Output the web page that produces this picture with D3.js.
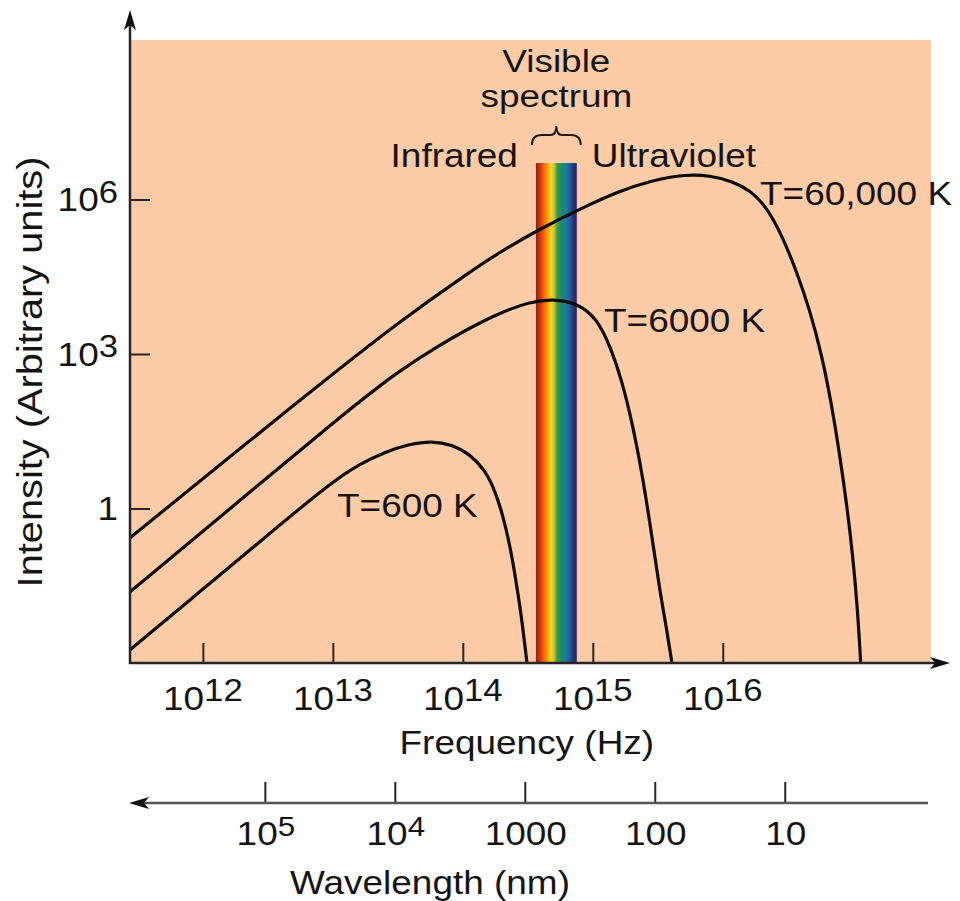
<!DOCTYPE html>
<html>
<head>
<meta charset="utf-8">
<script src="https://cdn.jsdelivr.net/npm/d3@7"></script>
<style>
  html, body { margin: 0; padding: 0; background: #ffffff; }
  svg { display: block; }
  text { font-family: "Liberation Sans", Arial, Helvetica, sans-serif; fill: #141414; }
</style>
</head>
<body>
<svg id="chart" width="960" height="901"></svg>
<script>
// ---- Data -------------------------------------------------------------
// Blackbody curves: [frequency (Hz), intensity (arbitrary units)]
const curve600K = [
  [2.74e11, 1.79e-3], [9.49e11, 0.0242], [2.74e12, 0.227], [1.0e13, 3.42],
  [1.61e13, 7.31], [2.51e13, 12.5], [3.91e13, 17.9], [5.78e13, 20.5],
  [8.23e13, 17.5], [1.13e14, 11.4], [1.48e14, 5.59], [1.76e14, 2.29],
  [2.03e14, 0.748], [2.30e14, 0.196], [2.56e14, 0.0409], [2.79e14, 0.00977],
  [2.95e14, 0.0032], [3.11e14, 1.05e-3]
];
const curve6000K = [
  [2.74e11, 0.0239], [1.61e12, 0.978], [1.13e13, 59.8], [3.27e13, 489],
  [6.65e13, 1496], [1.24e14, 3660], [2.10e14, 6840], [3.27e14, 10230],
  [4.92e14, 11700], [7.53e14, 9780], [1.07e15, 5000], [1.35e15, 1496],
  [1.67e15, 313], [2.03e15, 41.8], [2.43e15, 3.91], [2.84e15, 0.306],
  [3.27e15, 0.0261], [3.71e15, 0.00437], [4.05e15, 1.05e-3]
];
const curve60000K = [
  [2.74e11, 0.267], [5.57e12, 128], [3.27e13, 4370], [1.13e14, 39100],
  [1.93e14, 95700], [3.91e14, 2.67e5], [7.94e14, 6.54e5], [1.61e15, 1.46e6],
  [2.74e15, 2.29e6], [5.28e15, 3.13e6], [8.23e15, 2.86e6], [1.17e16, 2.29e6],
  [1.61e16, 1.53e6], [2.18e16, 7.15e5], [2.89e16, 1.87e5], [3.71e16, 39100],
  [4.67e16, 7150], [5.78e16, 957], [6.89e16, 102], [7.94e16, 10.9],
  [9.0e16, 1.17], [1.0e17, 0.125], [1.09e17, 0.0107], [1.15e17, 1.05e-3]
];
const seriesNames = ["T=600 K", "T=6000 K", "T=60,000 K"];

// Visible band (Hz) and the height the rainbow bar reaches
const visibleBand = [3.65e14, 7.53e14];
const visibleTop = 5.1e6;

// Tick values and their labels: [mantissa, exponent]
const freqTicks = [1e12, 1e13, 1e14, 1e15, 1e16];
const freqTickLabels = [["10", "12"], ["10", "13"], ["10", "14"], ["10", "15"], ["10", "16"]];
const intensityTicks = [1, 1e3, 1e6];
const intensityTickLabels = [["1", ""], ["10", "3"], ["10", "6"]];
const waveTicks = [1e5, 1e4, 1000, 100, 10];
const waveTickLabels = [["10", "5"], ["10", "4"], ["1000", ""], ["100", ""], ["10", ""]];

const SPEED_OF_LIGHT_NM = 2.998e17; // nm/s

// ---- Layout ------------------------------------------------------------
const svg = d3.select("#chart");
const FONT = 33, SX = 1.12;

const x = d3.scaleLog().domain([2.75e11, 4e17]).range([130, 931]);
const y = d3.scaleLog().domain([1e-3, 1.25e9]).range([663, 40]);
const wl = d3.scaleLog()
  .domain([SPEED_OF_LIGHT_NM / x.domain()[0], SPEED_OF_LIGHT_NM / x.domain()[1]])
  .range(x.range());

const [x0, x1] = x.range();
const [y0, y1] = y.range(); // y0 bottom, y1 top
const waveY = 803;

function label(parent, str, px, py, opts = {}) {
  const { anchor = "start", size = FONT, rotate = 0, sx = SX } = opts;
  return parent.append("text")
    .attr("transform", `translate(${px},${py})` + (rotate ? ` rotate(${rotate})` : "") + ` scale(${sx},1)`)
    .attr("text-anchor", anchor)
    .attr("font-size", size)
    .text(str);
}

function powerLabel(parent, parts, px, py, anchor, size, supSize, rise) {
  const t = parent.append("text")
    .attr("transform", `translate(${px},${py}) scale(${SX},1)`)
    .attr("text-anchor", anchor)
    .attr("font-size", size);
  t.append("tspan").text(parts[0]);
  if (parts[1]) {
    t.append("tspan").attr("font-size", supSize).attr("dy", -rise).text(parts[1]);
  }
  return t;
}

// Background panel
svg.append("rect")
  .attr("x", x0).attr("y", y1)
  .attr("width", x1 - x0).attr("height", y0 - y1)
  .attr("fill", "#fdcba6");

// Rainbow gradient for the visible band (red at low frequency)
const defs = svg.append("defs");
const grad = defs.append("linearGradient").attr("id", "rainbow")
  .attr("x1", "0%").attr("x2", "100%").attr("y1", "0%").attr("y2", "0%");
[
  [0, "#6a2a2a"], [0.05, "#b52a14"], [0.13, "#e4400c"], [0.25, "#ff8a00"],
  [0.36, "#ffd21e"], [0.44, "#c6cc3a"], [0.52, "#3f9a40"], [0.62, "#1d8a6e"],
  [0.72, "#1a7e9a"], [0.82, "#23609e"], [0.92, "#28327a"], [1, "#2a2058"]
].forEach(([o, c]) => grad.append("stop").attr("offset", o).attr("stop-color", c));

defs.append("clipPath").attr("id", "plotClip")
  .append("rect").attr("x", x0).attr("y", y1).attr("width", x1 - x0).attr("height", y0 - y1);

// Visible spectrum bar
const vx0 = x(visibleBand[0]), vx1 = x(visibleBand[1]);
svg.append("rect")
  .attr("x", vx0).attr("y", y(visibleTop))
  .attr("width", vx1 - vx0).attr("height", y0 - y(visibleTop))
  .attr("fill", "url(#rainbow)");

// Brace over the bar
const bl = vx0 - 4, br = vx1 + 4, bm = (vx0 + vx1) / 2;
const bTop = y(visibleTop) - 37, bMid = bTop + 9, bBot = bTop + 19;
svg.append("path")
  .attr("d", `M${bl},${bBot} Q${bl},${bMid} ${bl + 10},${bMid} L${bm - 6},${bMid} Q${bm},${bMid} ${bm},${bTop}` +
             ` Q${bm},${bMid} ${bm + 6},${bMid} L${br - 10},${bMid} Q${br},${bMid} ${br},${bBot}`)
  .attr("fill", "none").attr("stroke", "#1a1a1a").attr("stroke-width", 2);

// Curves
const line = d3.line()
  .x(d => x(d[0])).y(d => y(d[1]))
  .curve(d3.curveBasis);
svg.append("g").attr("clip-path", "url(#plotClip)")
  .selectAll("path")
  .data([curve600K, curve6000K, curve60000K])
  .join("path")
  .attr("d", line)
  .attr("fill", "none")
  .attr("stroke", "#0a0a0a")
  .attr("stroke-width", 3.2)
  .attr("stroke-linejoin", "round");

// Curve labels
label(svg, seriesNames[0], 337, 517);
label(svg, seriesNames[1], 604, 332);
label(svg, seriesNames[2], 760, 205);

// Band labels
label(svg, "Visible", bm, 72, { anchor: "middle", size: 31, sx: 1.19 });
label(svg, "spectrum", bm, 107, { anchor: "middle", size: 31, sx: 1.19 });
label(svg, "Infrared", vx0 - 18, 167, { anchor: "end" });
label(svg, "Ultraviolet", vx1 + 15, 167);

// ---- Axes --------------------------------------------------------------
const axisColor = "#262626";

function arrowHead(cx, cy, angle) {
  // tip at (cx, cy), pointing along angle (degrees)
  svg.append("path")
    .attr("d", "M0,0 L-20,-6 L-15,0 L-20,6 Z")
    .attr("transform", `translate(${cx},${cy}) rotate(${angle})`)
    .attr("fill", "#111");
}

// Frequency axis (bottom)
const xAxis = d3.axisBottom(x).tickValues(freqTicks).tickSize(-20).tickSizeOuter(0).tickFormat("");
const gx = svg.append("g").attr("transform", `translate(0,${y0})`).call(xAxis);
gx.select(".domain").remove();
gx.selectAll(".tick line").attr("stroke", axisColor).attr("stroke-width", 2);
svg.append("line").attr("x1", x0 - 1).attr("x2", 940).attr("y1", y0).attr("y2", y0)
  .attr("stroke", axisColor).attr("stroke-width", 2.5);
arrowHead(950, y0, 0);

freqTicks.forEach((t, i) => powerLabel(svg, freqTickLabels[i], x(t), 710, "middle", FONT, 31, 9));
label(svg, "Frequency (Hz)", (x(1e12) + x(1e16)) / 2 + 64, 754, { anchor: "middle" });

// Intensity axis (left)
const yAxis = d3.axisLeft(y).tickValues(intensityTicks).tickSize(-20).tickSizeOuter(0).tickFormat("");
const gy = svg.append("g").attr("transform", `translate(${x0},0)`).call(yAxis);
gy.select(".domain").remove();
gy.selectAll(".tick line").attr("stroke", axisColor).attr("stroke-width", 2);
svg.append("line").attr("x1", x0).attr("x2", x0).attr("y1", y0 + 1).attr("y2", 22)
  .attr("stroke", axisColor).attr("stroke-width", 2.5);
arrowHead(x0, 10, -90);

intensityTicks.forEach((t, i) => powerLabel(svg, intensityTickLabels[i], 118, y(t) + 12, "end", FONT, 31, 9));
label(svg, "Intensity (Arbitrary units)", 42, 372, { anchor: "middle", rotate: -90, size: 35.5 });

// Wavelength axis (below), pointing toward longer wavelengths
const wAxis = d3.axisTop(wl).tickValues(waveTicks).tickSize(21).tickSizeOuter(0).tickFormat("");
const gw = svg.append("g").attr("transform", `translate(0,${waveY})`).call(wAxis);
gw.select(".domain").remove();
gw.selectAll(".tick line").attr("stroke", axisColor).attr("stroke-width", 2);
svg.append("line").attr("x1", 140).attr("x2", 928).attr("y1", waveY).attr("y2", waveY)
  .attr("stroke", "#555").attr("stroke-width", 2.5);
arrowHead(129, waveY, 180);

waveTicks.forEach((t, i) => powerLabel(svg, waveTickLabels[i], wl(t) + 1, 845, "middle", FONT, 28, 9));
label(svg, "Wavelength (nm)", 430, 894, { anchor: "middle" });
</script>
</body>
</html>
